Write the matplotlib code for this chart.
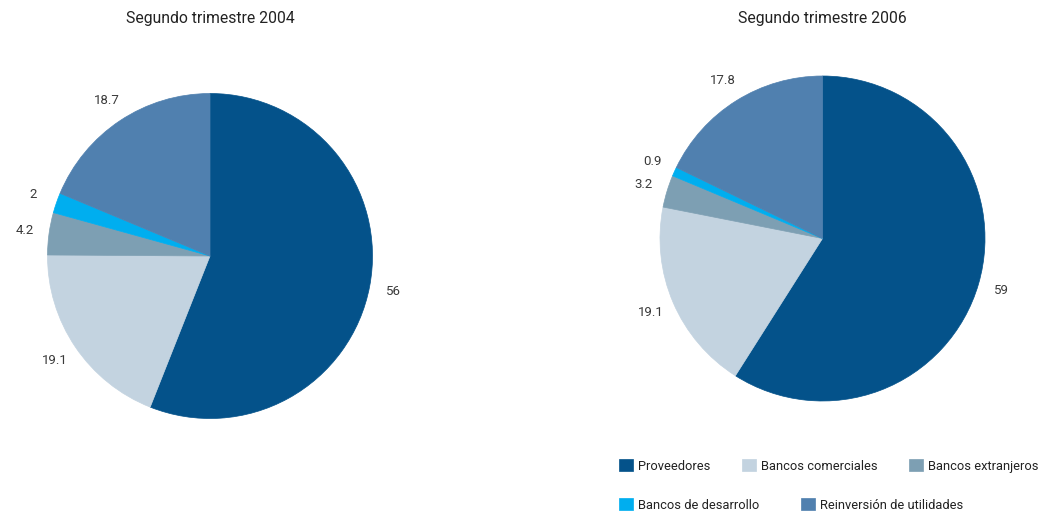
import matplotlib
matplotlib.use("Agg")
import matplotlib.pyplot as plt

categories = ["Proveedores", "Bancos comerciales", "Bancos extranjeros",
              "Bancos de desarrollo", "Reinversión de utilidades"]
values_2004 = [56, 19.1, 4.2, 2, 18.7]
values_2006 = [59, 19.1, 3.2, 0.9, 17.8]
labels_2004 = ["56", "19.1", "4.2", "2", "18.7"]
labels_2006 = ["59", "19.1", "3.2", "0.9", "17.8"]
titles = ["Segundo trimestre 2004", "Segundo trimestre 2006"]
colors = ["#04528A", "#C3D3E0", "#7D9FB3", "#00AEEF", "#5080AF"]

W, H = 1041, 511
plt.rcParams['font.family'] = ['Roboto', 'DejaVu Sans']
fig = plt.figure(figsize=(W / 100, H / 100), dpi=100)

R = 162.5
LIM = 1.25
size = 2 * LIM * R

def add_pie(cx, cy, vals, labs, title):
    ax = fig.add_axes([(cx - size / 2) / W, (H - cy - size / 2) / H, size / W, size / H])
    wedges, texts = ax.pie(vals, labels=labs, colors=colors, startangle=90, counterclock=False,
                           labeldistance=1.15, radius=1,
                           wedgeprops=dict(linewidth=0.5, edgecolor="none"),
                           textprops=dict(fontsize=9.5, color="#3a3a3a", ha="center", va="center"))
    for w, c in zip(wedges, colors):
        w.set_edgecolor(c)
    ax.set_xlim(-LIM, LIM)
    ax.set_ylim(-LIM, LIM)
    ax.set_aspect("equal")
    ax.axis("off")
    fig.text(cx / W, 1 - 18 / H, title, ha="center", va="center", fontsize=11.3, color="#222222")
    return wedges

w1 = add_pie(210, 256, values_2004, labels_2004, titles[0])
w2 = add_pie(822.5, 238.5, values_2006, labels_2006, titles[1])

leg_kw = dict(frameon=False, fontsize=9.3, handlelength=1.08, handleheight=1.08,
              handletextpad=0.42, borderaxespad=0, borderpad=0, labelcolor="#222222")
fig.legend(w2[:3], categories[:3], ncol=3, columnspacing=2.4,
           loc="center left", bbox_to_anchor=(619 / W, 1 - 466 / H), **leg_kw)
fig.legend(w2[3:], categories[3:], ncol=2, columnspacing=3.2,
           loc="center left", bbox_to_anchor=(619 / W, 1 - 505 / H), **leg_kw)

fig.savefig("out.png", dpi=100)
